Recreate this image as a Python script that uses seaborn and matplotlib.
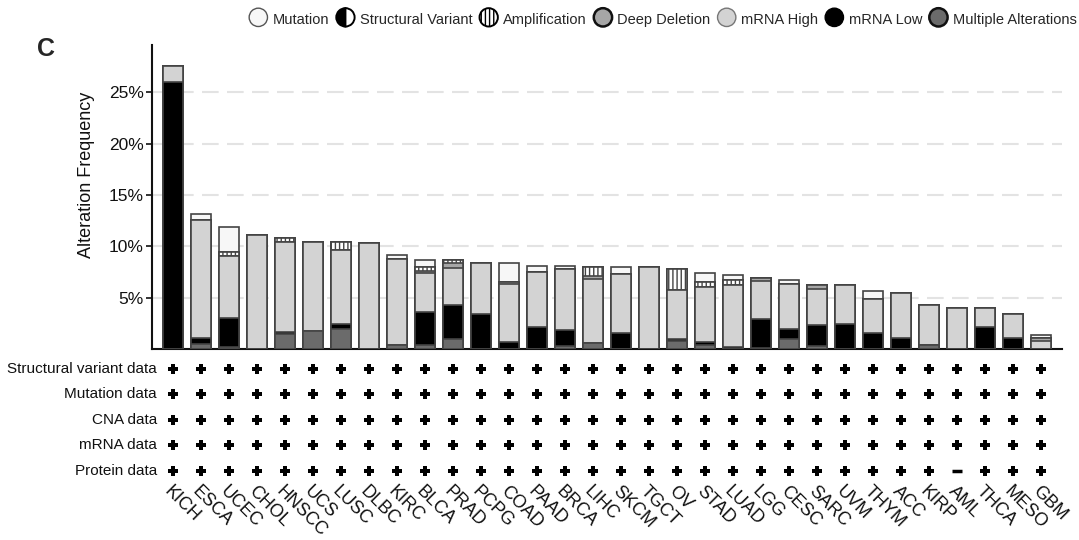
import numpy as np
import pandas as pd
import matplotlib
matplotlib.use("Agg")
import matplotlib.pyplot as plt
import matplotlib.patches as mpatches
from matplotlib.legend_handler import HandlerPatch
from matplotlib.transforms import blended_transform_factory
import seaborn as sns

# ---------------- data ----------------
cancers = ["KICH", "ESCA", "UCEC", "CHOL", "HNSCC", "UCS", "LUSC", "DLBC", "KIRC", "BLCA",
           "PRAD", "PCPG", "COAD", "PAAD", "BRCA", "LIHC", "SKCM", "TGCT", "OV", "STAD",
           "LUAD", "LGG", "CESC", "SARC", "UVM", "THYM", "ACC", "KIRP", "AML", "THCA",
           "MESO", "GBM"]

multiple = [0, 0.45, 0.2, 0, 1.46, 1.75, 1.98, 0, 0.36, 0.39,
            0.94, 0, 0, 0, 0.29, 0.55, 0, 0, 0.78, 0.39,
            0, 0.13, 0.94, 0.29, 0, 0, 0, 0.36, 0, 0,
            0, 0]
mrna_low = [26.0, 0.65, 2.82, 0, 0.23, 0, 0.45, 0, 0, 3.25,
            3.35, 3.38, 0.65, 2.14, 1.53, 0, 1.56, 0, 0.23, 0.26,
            0.16, 2.76, 1.04, 2.02, 2.47, 1.59, 1.07, 0, 0, 2.18,
            1.10, 0]
mrna_high = [1.6, 11.46, 6.07, 11.07, 8.7, 8.7, 7.21, 10.32, 8.37, 3.76,
             3.57, 4.96, 5.65, 5.39, 5.94, 6.30, 5.75, 8.02, 4.70, 5.42,
             6.11, 3.77, 4.35, 3.50, 3.76, 3.25, 4.42, 3.89, 3.96, 1.78,
             2.31, 0.78]
deep_del = [0, 0, 0, 0, 0, 0, 0, 0, 0, 0.23,
            0.55, 0, 0.23, 0, 0, 0.26, 0, 0, 0, 0,
            0, 0.29, 0, 0.42, 0, 0, 0, 0, 0, 0,
            0, 0.26]
amplification = [0, 0, 0.36, 0, 0.45, 0, 0.75, 0, 0, 0.36,
                 0.26, 0, 0, 0, 0, 0.91, 0, 0, 2.11, 0.49,
                 0.45, 0, 0, 0, 0, 0, 0, 0, 0, 0,
                 0, 0]
struct_var = [0] * 32
mutation = [0, 0.55, 2.4, 0, 0, 0, 0, 0, 0.39, 0.71,
            0, 0, 1.81, 0.55, 0.29, 0, 0.68, 0, 0, 0.87,
            0.46, 0, 0.36, 0, 0, 0.81, 0, 0, 0, 0,
            0, 0.29]

row_labels = ["Structural variant data", "Mutation data", "CNA data", "mRNA data", "Protein data"]
sv_avail = [1] * 32
mut_avail = [1] * 32
cna_avail = [1] * 32
mrna_avail = [1] * 32
prot_avail = [1] * 28 + [0] + [1] * 3
availability = [sv_avail, mut_avail, cna_avail, mrna_avail, prot_avail]

ytick_vals = [5, 10, 15, 20, 25]

# ---------------- styling ----------------
sns.set_theme(style="white")
plt.rcParams["font.family"] = ["Liberation Sans", "DejaVu Sans"]
plt.rcParams["hatch.linewidth"] = 1.0

C_MULT = "#6b6b6b"
C_LOW = "#000000"
C_HIGH = "#d3d3d3"
C_DEL = "#a6a6a6"
C_AMP = "#ffffff"
C_SV = "#000000"
C_MUT = "#f7f7f7"
EDGE = "#444444"

layers = [  # bottom -> top
    ("Multiple Alterations", multiple, C_MULT, None),
    ("mRNA Low", mrna_low, C_LOW, None),
    ("mRNA High", mrna_high, C_HIGH, None),
    ("Deep Deletion", deep_del, C_DEL, None),
    ("Amplification", amplification, C_AMP, "||||"),
    ("Structural Variant", struct_var, C_SV, None),
    ("Mutation", mutation, C_MUT, None),
]

df = pd.DataFrame({"cancer": cancers})
cum = np.zeros(len(cancers))
cum_cols = []
for name, vals, col, hatch in layers:
    cum = cum + np.array(vals, dtype=float)
    df["cum_" + name] = cum
    cum_cols.append(("cum_" + name, col, hatch))

fig = plt.figure(figsize=(10.79, 5.40), dpi=100)
ax = fig.add_axes([152 / 1079, 1 - 349 / 540, (1062 - 152) / 1079, (349 - 45) / 540])

# overdraw cumulative bars from top layer down
for colname, col, hatch in reversed(cum_cols):
    sns.barplot(data=df, x="cancer", y=colname, order=cancers, color=col,
                saturation=1, width=0.74, edgecolor=EDGE, linewidth=1.2,
                hatch=hatch, errorbar=None, ax=ax, zorder=3)

ax.set_xlim(-0.75, len(cancers) - 0.25)
ax.set_ylim(0, 29.6)
ax.set_yticks(ytick_vals)
ax.set_yticklabels([f"{v}%" for v in ytick_vals], fontsize=12.5, color="#111111")
ax.set_ylabel("Alteration Frequency", fontsize=13, color="#111111")
ax.yaxis.set_label_coords(-0.0626, 0.572)
ax.set_xlabel("")
ax.yaxis.grid(True, color="#e3e3e3", linestyle=(0, (8, 4)), linewidth=1.5, zorder=0)
ax.set_axisbelow(True)
for s in ["top", "right"]:
    ax.spines[s].set_visible(False)
for s in ["left", "bottom"]:
    ax.spines[s].set_color("#111111")
    ax.spines[s].set_linewidth(1.5)
ax.tick_params(axis="y", which="major", left=True, length=4, width=1.2, color="#111111", pad=2)
ax.tick_params(axis="x", length=0, pad=96)
ax.set_xticks(range(len(cancers)))
ax.set_xticklabels(cancers, rotation=-45, ha="left", va="top",
                   rotation_mode="anchor", fontsize=13, color="#111111")

# availability table
row_y_px = [369, 394, 420, 445, 471]
trans = blended_transform_factory(ax.transData, fig.transFigure)
xs = np.arange(len(cancers))
for lab, ypx, avail in zip(row_labels, row_y_px, availability):
    yf = 1 - ypx / 540
    fig.text(157 / 1079, yf, lab, ha="right", va="center", fontsize=11, color="#111111")
    av = np.array(avail)
    ax.scatter(xs[av == 1], np.full((av == 1).sum(), yf), marker="P", s=50,
               color="black", linewidths=0, transform=trans, clip_on=False)
    if (av == 0).any():
        ax.scatter(xs[av == 0], np.full((av == 0).sum(), yf), marker="_", s=60,
                   color="black", linewidths=2.5, transform=trans, clip_on=False)

# panel label
fig.text(37 / 1079, 1 - 49 / 540, "C", fontsize=18, fontweight="bold", ha="left", va="center")


# legend with circular handles
class HandlerCircle(HandlerPatch):
    def create_artists(self, legend, orig_handle, xdescent, ydescent, width, height, fontsize, trans):
        cx = 0.5 * width - 0.5 * xdescent
        cy = 0.5 * height - 0.5 * ydescent
        r = 0.56 * height
        p = mpatches.Circle((cx, cy), radius=r)
        self.update_prop(p, orig_handle, legend)
        p.set_transform(trans)
        return [p]


class HandlerSV(HandlerPatch):
    def create_artists(self, legend, orig_handle, xdescent, ydescent, width, height, fontsize, trans):
        cx = 0.5 * width - 0.5 * xdescent
        cy = 0.5 * height - 0.5 * ydescent
        r = 0.56 * height
        w1 = mpatches.Wedge((cx, cy), r, 90, 270, facecolor="black", edgecolor="black", linewidth=1.4)
        w2 = mpatches.Wedge((cx, cy), r, 270, 90, facecolor="white", edgecolor="black", linewidth=1.4)
        out = [w1, w2]
        for a in out:
            a.set_transform(trans)
        return out


h_mut = mpatches.Patch(facecolor=C_MUT, edgecolor="#555555", linewidth=1.0)
h_sv = mpatches.Patch(facecolor="white", edgecolor="black")
h_amp = mpatches.Patch(facecolor="white", edgecolor="black", hatch="||||", linewidth=1.4)
h_del = mpatches.Patch(facecolor=C_DEL, edgecolor="#111111", linewidth=1.8)
h_high = mpatches.Patch(facecolor=C_HIGH, edgecolor="#777777", linewidth=1.0)
h_low = mpatches.Patch(facecolor=C_LOW, edgecolor="black", linewidth=1.0)
h_mul = mpatches.Patch(facecolor=C_MULT, edgecolor="#111111", linewidth=1.8)

handles = [h_mut, h_sv, h_amp, h_del, h_high, h_low, h_mul]
labels = ["Mutation", "Structural Variant", "Amplification", "Deep Deletion",
          "mRNA High", "mRNA Low", "Multiple Alterations"]
hmap = {h: HandlerCircle() for h in handles}
hmap[h_sv] = HandlerSV()
fig.legend(handles, labels, handler_map=hmap, loc="center right", ncol=7,
           bbox_to_anchor=(1078 / 1079, 1 - 19 / 540), frameon=False,
           fontsize=10.5, handlelength=1.35, handleheight=1.35, handletextpad=0.3,
           columnspacing=0.45, borderpad=0.1, borderaxespad=0)

fig.savefig("out.png", dpi=100)
